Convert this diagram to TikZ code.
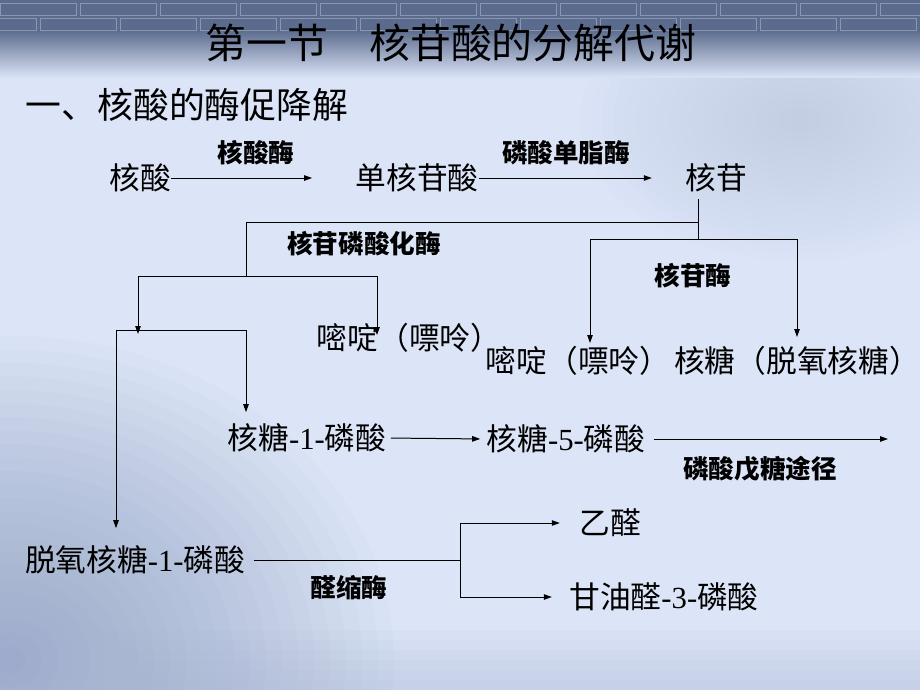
\documentclass[tikz,border=0pt]{standalone}
\usepackage{fontspec}
\setmainfont{Noto Sans CJK SC}
\newfontfamily\lat{Liberation Serif}
\usetikzlibrary{arrows.meta}

\definecolor{bgbase}{HTML}{DCE5F7}
\definecolor{bgdark}{HTML}{5B6B8D}
\definecolor{bgwall}{HTML}{7F90B8}
\definecolor{bgmist}{HTML}{A9B6D2}

\begin{document}
\begin{tikzpicture}[x=1pt,y=-1pt,line width=1pt,
   txt/.style={inner sep=0pt,font=\fontsize{30.7pt}{36pt}\selectfont,text height=27pt,text depth=3.7pt},
   lbl/.style={inner sep=0pt,font=\fontsize{25.6pt}{30pt}\selectfont\bfseries,text height=22.5pt,text depth=3.1pt},
   arr/.style={-{Triangle[length=8pt,width=5.5pt]}},
   brick/.style={draw=white,opacity=.3,line width=.8pt}]
   \useasboundingbox (0,0) rectangle (920,690);

   % background
   \fill[bgbase] (0,0) rectangle (920,690);
   \foreach \r in {1,...,20}
      \fill[bgmist,opacity=.025] (800,120) ellipse ({11*\r} and {7*\r});
   \foreach \r in {1,...,24}
      \fill[bgwall,opacity=.035] (10,660) ellipse ({16*\r} and {13.5*\r});
   \foreach \r in {1,...,6}
      \fill[bgmist,opacity=.08] (0,690-10*\r) rectangle (920,690);
   \fill[bgdark] (0,0) rectangle (920,30);
   \shade[top color=bgdark,bottom color=bgbase] (0,30) rectangle (920,78);
   \foreach \bx in {0,80,...,880}
      \draw[brick] (\bx,3) rectangle ++(76,12);
   \foreach \bx in {-40,40,...,880}
      \draw[brick] (\bx,18) rectangle ++(76,12);

   % headings
   \node (title) at (451,43) [inner sep=0pt,font=\fontsize{40.9pt}{48pt}\selectfont,text height=36pt,text depth=4.9pt] {第一节\hspace{1em}核苷酸的分解代谢};
   \node (sub) at (187,105) [inner sep=0pt,font=\fontsize{35.8pt}{42pt}\selectfont,text height=31.5pt,text depth=4.3pt] {一、核酸的酶促降解};

   % compounds
   \node[txt] (na) at (140,178) {核酸};
   \node[txt] (nmp) at (417,178) {单核苷酸};
   \node[txt] (nuc) at (716,178) {核苷};
   \node[txt] (pyr1) at (409,338) {嘧啶（嘌呤）};
   \node[txt] (pyr2) at (578,361) {嘧啶（嘌呤）};
   \node[txt] (rib) at (797,361) {核糖（脱氧核糖）};
   \node[txt] (r1p) at (307,438) {核糖{\lat -1-}磷酸};
   \node[txt] (r5p) at (566,439) {核糖{\lat -5-}磷酸};
   \node[txt] (dr1p) at (135,560) {脱氧核糖{\lat -1-}磷酸};
   \node[txt] (ald) at (610,523) {乙醛};
   \node[txt] (g3p) at (664,597) {甘油醛{\lat -3-}磷酸};

   % enzymes
   \node[lbl] (e1) at (256,153) {核酸酶};
   \node[lbl] (e2) at (566,153) {磷酸单脂酶};
   \node[lbl] (e3) at (364,244) {核苷磷酸化酶};
   \node[lbl] (e4) at (693,276) {核苷酶};
   \node[lbl] (e5) at (760,469) {磷酸戊糖途径};
   \node[lbl] (e6) at (349,588) {醛缩酶};

   % junctions
   \coordinate (k1) at (698,222);
   \coordinate (k2) at (698,239);
   \coordinate (k3) at (246,276);
   \coordinate (k4) at (138,334);
   \coordinate (k5) at (116,330);
   \coordinate (k6) at (246,330);
   \coordinate (k8) at (590,239);
   \coordinate (k9) at (797,239);
   \coordinate (k10) at (460,560);
   \coordinate (t1) at (377,335);
   \coordinate (t2) at (590,343);
   \coordinate (t3) at (797,337);
   \coordinate (pend) at (888,439);

   \draw[arr,shorten >=43pt] (na.east) -- (nmp.west);
   \draw[arr,shorten >=33pt] (nmp.east) -- (nuc.west);

   \draw[shorten <=5pt] (nuc.south -| k2) -- (k2);
   \draw (k1) -| (k3);
   \draw[arr] (k3) -| (k4);
   \draw[arr] (k3) -| (t1);
   \draw (k5) -- (k6);
   \draw[arr,shorten >=10pt] (k6) -- (r1p.north -| k6);
   \draw[arr,shorten >=16pt] (k5) -- (dr1p.north -| k5);

   \draw (k8) -- (k9);
   \draw[arr] (k8) -- (t2);
   \draw[arr] (k9) -- (t3);

   \draw[arr,shorten <=4pt,shorten >=6pt] (r1p.east) -- (r5p.west);
   \draw[arr,shorten <=8pt] (r5p.east) -- (pend);

   \draw[shorten <=8pt] (dr1p.east) -- (k10);
   \draw[arr,shorten >=19pt] (k10) |- (ald.west);
   \draw[arr,shorten >=17pt] (k10) |- (g3p.west);
\end{tikzpicture}
\end{document}
